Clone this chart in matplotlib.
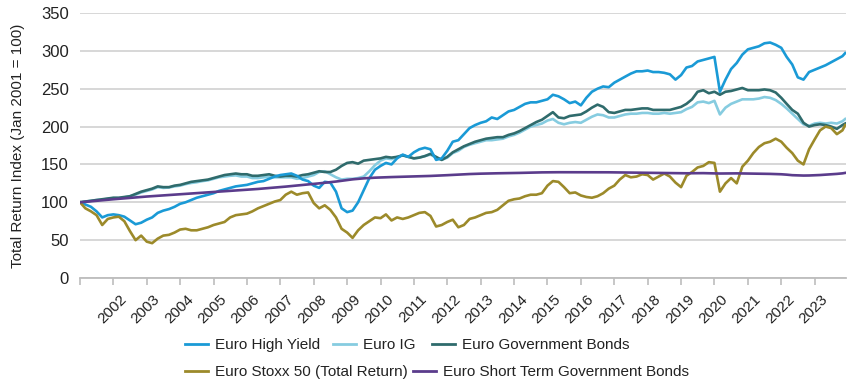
import matplotlib
matplotlib.use("Agg")
import matplotlib.pyplot as plt
import matplotlib.dates as mdates
from matplotlib.lines import Line2D
from matplotlib.transforms import ScaledTranslation
import pandas as pd

# ---------------- data (bi-monthly, Jan 2001 .. Nov 2023, plus Dec 2023) ----------------
dates = list(pd.date_range("2001-01-01", periods=138, freq="2MS")) + [pd.Timestamp("2023-12-01")]

high_yield = [
    100, 97, 94, 88, 80, 83,
    84, 83, 81, 76, 71, 73,
    77, 80, 86, 89, 91, 94,
    98, 100, 103, 106, 108, 110,
    112, 115, 117, 119, 121, 122,
    123, 125, 127, 128, 131, 134,
    136, 137, 138, 135, 130, 128,
    122, 119, 127, 126, 114, 92,
    87, 89, 100, 116, 132, 143,
    148, 152, 150, 158, 163, 160,
    166, 170, 172, 170, 156, 158,
    168, 180, 182, 190, 198, 202,
    205, 207, 212, 210, 215, 220,
    222, 226, 230, 232, 232, 234,
    236, 242, 240, 236, 231, 233,
    228, 238, 246, 250, 253, 252,
    258, 262, 266, 270, 273, 273,
    274, 272, 272, 271, 269, 262,
    268, 278, 280, 286, 288, 290,
    292, 246, 262, 276, 284, 295,
    302, 304, 306, 310, 311, 308,
    304, 292, 282, 265, 262, 272,
    275, 278, 281, 285, 289, 293, 297,
]

euro_ig = [
    100, 101, 102, 103, 103.5, 104.5,
    105.5, 105.5, 106.5, 108, 110, 113,
    115, 117, 120, 119, 119.5, 121,
    122, 124, 125.5, 126.5, 128, 129,
    131, 133, 134, 135, 135.5, 134,
    134, 132, 132, 133, 134, 133,
    133, 133, 133, 131, 132, 134,
    136, 140, 141, 137, 133, 130,
    131, 131, 132, 134, 141, 149,
    155, 158, 157, 160, 162, 160,
    158, 159, 161, 163, 159, 156,
    159, 165, 168, 173, 176, 178,
    180, 182, 182, 183, 184, 187,
    189, 192, 196, 200, 202, 204,
    208, 210, 205, 203, 205, 206,
    205, 209, 213, 216, 215, 212,
    212, 214, 216, 217, 217, 218,
    218, 217, 217, 218, 217, 218,
    219, 223, 226, 232, 233, 231,
    234, 216, 225, 230, 233, 236,
    236, 236, 237, 239, 238, 235,
    230, 224, 217, 210, 203, 201,
    204, 205, 204, 205, 204, 207, 210,
]

euro_govt = [
    100, 101, 102, 103, 104, 105,
    106, 106, 107, 108, 111, 114,
    116, 118, 121, 120, 120, 122,
    123, 125, 127, 128, 129, 130,
    132, 134, 136, 137, 138, 137,
    137, 135, 135, 136, 137, 135,
    134, 135, 135, 134, 136, 137,
    139, 141, 140, 140, 143, 148,
    152, 153, 151, 155, 156, 157,
    158, 160, 159, 160, 162, 160,
    158, 159, 161, 164, 160, 156,
    160, 166, 170, 174, 177, 180,
    182, 184, 185, 186, 186, 189,
    191, 194, 198, 202, 206, 209,
    214, 219, 212, 211, 214, 215,
    216, 220, 225, 229, 226, 219,
    218, 220, 222, 222, 223, 224,
    224, 222, 222, 222, 222, 224,
    226, 230, 236, 246, 248, 244,
    246, 242, 246, 247, 249, 251,
    248, 248, 248, 249, 248, 245,
    238, 230, 222, 217, 205, 200,
    202, 203, 202, 200, 197, 202, 204,
]

euro_stoxx = [
    100, 92, 88, 83, 70, 78,
    80, 81, 75, 62, 50, 56,
    48, 46, 52, 56, 57, 60,
    64, 65, 63, 63, 65, 67,
    70, 72, 74, 80, 83, 84,
    85, 88, 92, 95, 98, 101,
    103, 110, 114, 110, 112, 113,
    99, 92, 96, 90, 80, 65,
    60, 53, 63, 70, 75, 80,
    79, 84, 76, 80, 78, 80,
    83, 86, 87, 82, 68, 70,
    74, 77, 67, 70, 78, 80,
    83, 86, 87, 90, 96, 102,
    104, 105, 108, 110, 110, 112,
    122, 128, 127, 120, 112, 113,
    109, 107, 106, 108, 112, 118,
    122, 130, 136, 133, 134, 137,
    136, 130, 134, 138, 134, 126,
    120, 135, 140, 146, 148, 153,
    152, 114, 125, 132, 125, 147,
    155, 165, 173, 178, 180, 184,
    180, 172, 165, 155, 150, 170,
    183, 195, 200, 198, 190, 195, 202,
]

euro_short = [
    100, 100.6, 101.3, 102, 102.7, 103.4,
    104, 104.6, 105.2, 105.8, 106.4, 107,
    107.6, 108.1, 108.6, 109.1, 109.6, 110.1,
    110.6, 111.1, 111.6, 112.1, 112.6, 113.1,
    113.6, 114.1, 114.6, 115.1, 115.6, 116.1,
    116.6, 117.1, 117.6, 118.2, 118.8, 119.4,
    120, 120.7, 121.4, 122.1, 122.8, 123.5,
    124.2, 125, 125.8, 126.6, 127.4, 128.4,
    129.4, 130.3, 131, 131.6, 132.1, 132.5,
    132.8, 133.1, 133.3, 133.5, 133.7, 133.9,
    134.1, 134.3, 134.5, 134.8, 135.1, 135.4,
    135.8, 136.2, 136.6, 137, 137.3, 137.6,
    137.8, 138, 138.2, 138.3, 138.4, 138.5,
    138.6, 138.8, 139, 139.2, 139.4, 139.5,
    139.6, 139.7, 139.7, 139.7, 139.7, 139.7,
    139.7, 139.8, 139.8, 139.8, 139.7, 139.6,
    139.5, 139.4, 139.3, 139.2, 139.1, 139,
    138.9, 138.8, 138.7, 138.6, 138.5, 138.4,
    138.3, 138.3, 138.4, 138.5, 138.5, 138.3,
    138.2, 138, 138.1, 138.2, 138.2, 138.1,
    138, 137.9, 137.8, 137.7, 137.5, 137.3,
    137, 136.5, 135.8, 135.5, 135.3, 135.4,
    135.7, 136, 136.5, 137, 137.5, 138.2, 138.8,
]

labels = ["Euro High Yield", "Euro IG", "Euro Government Bonds",
          "Euro Stoxx 50 (Total Return)", "Euro Short Term Government Bonds"]
colors = ["#1a9ad6", "#86cce0", "#2f6b6c", "#9c8a2a", "#5b3c8c"]
yticks = [0, 50, 100, 150, 200, 250, 300, 350]

FONT = ["Liberation Sans", "DejaVu Sans"]

# ---------------- figure ----------------
W, H = 850, 389
fig = plt.figure(figsize=(W / 100, H / 100), dpi=100)
ax = fig.add_axes([80 / W, 1 - 278 / H, 766 / W, 265 / H])

series = [high_yield, euro_ig, euro_govt, euro_stoxx, euro_short]
order = [1, 2, 0, 3, 4]
for i in order:
    ax.plot(dates, series[i], color=colors[i], lw=1.9, solid_joinstyle="round", zorder=3 + order.index(i))

ax.set_ylim(0, 350)
ax.set_yticks(yticks)
ax.set_xlim(pd.Timestamp("2001-01-01"), pd.Timestamp("2023-12-10"))
ax.grid(axis="y", color="#d4d4d4", lw=1.3)
ax.set_axisbelow(True)
for s in ["left", "right", "top"]:
    ax.spines[s].set_visible(False)
ax.spines["bottom"].set_color("#bdbdbd")
ax.spines["bottom"].set_linewidth(1.3)

ax.xaxis.set_major_locator(mdates.YearLocator(1))
ax.xaxis.set_major_formatter(plt.FuncFormatter(
    lambda v, p: "" if mdates.num2date(v).year == 2001 else str(mdates.num2date(v).year)))
ax.tick_params(axis="x", length=5, width=1.2, color="#bdbdbd", pad=5)
ax.tick_params(axis="y", length=0, pad=8, labelsize=12, labelcolor="#222222")

offset = ScaledTranslation(6 / 100, 0, fig.dpi_scale_trans)
for lab in ax.get_xticklabels():
    lab.set_rotation(45)
    lab.set_ha("right")
    lab.set_va("top")
    lab.set_rotation_mode("anchor")
    lab.set_fontsize(11)
    lab.set_color("#222222")
    lab.set_fontfamily(FONT)
    lab.set_transform(lab.get_transform() + offset)
for lab in ax.get_yticklabels():
    lab.set_fontfamily(FONT)

ax.set_ylabel("Total Return Index (Jan 2001 = 100)", fontsize=11, color="#222222", family=FONT)
ax.yaxis.set_label_coords(-55 / 766, 0.5)

# legend: one entry per legend box to match the irregular layout
entries = [(0, 185, 345), (1, 333, 345), (2, 432, 345), (3, 185, 372), (4, 413, 372)]
fs = 11
for i, x, y in entries:
    h = Line2D([0], [0], color=colors[i], lw=2)
    fig.legend(handles=[h], labels=[labels[i]], loc="center left",
               bbox_to_anchor=(x / W, 1 - y / H), frameon=False, borderpad=0,
               borderaxespad=0, handlelength=23 / (fs * 1.389), handletextpad=7 / (fs * 1.389),
               prop={"family": FONT, "size": fs},
               labelcolor="#222222")

fig.savefig("out.png", dpi=100)
